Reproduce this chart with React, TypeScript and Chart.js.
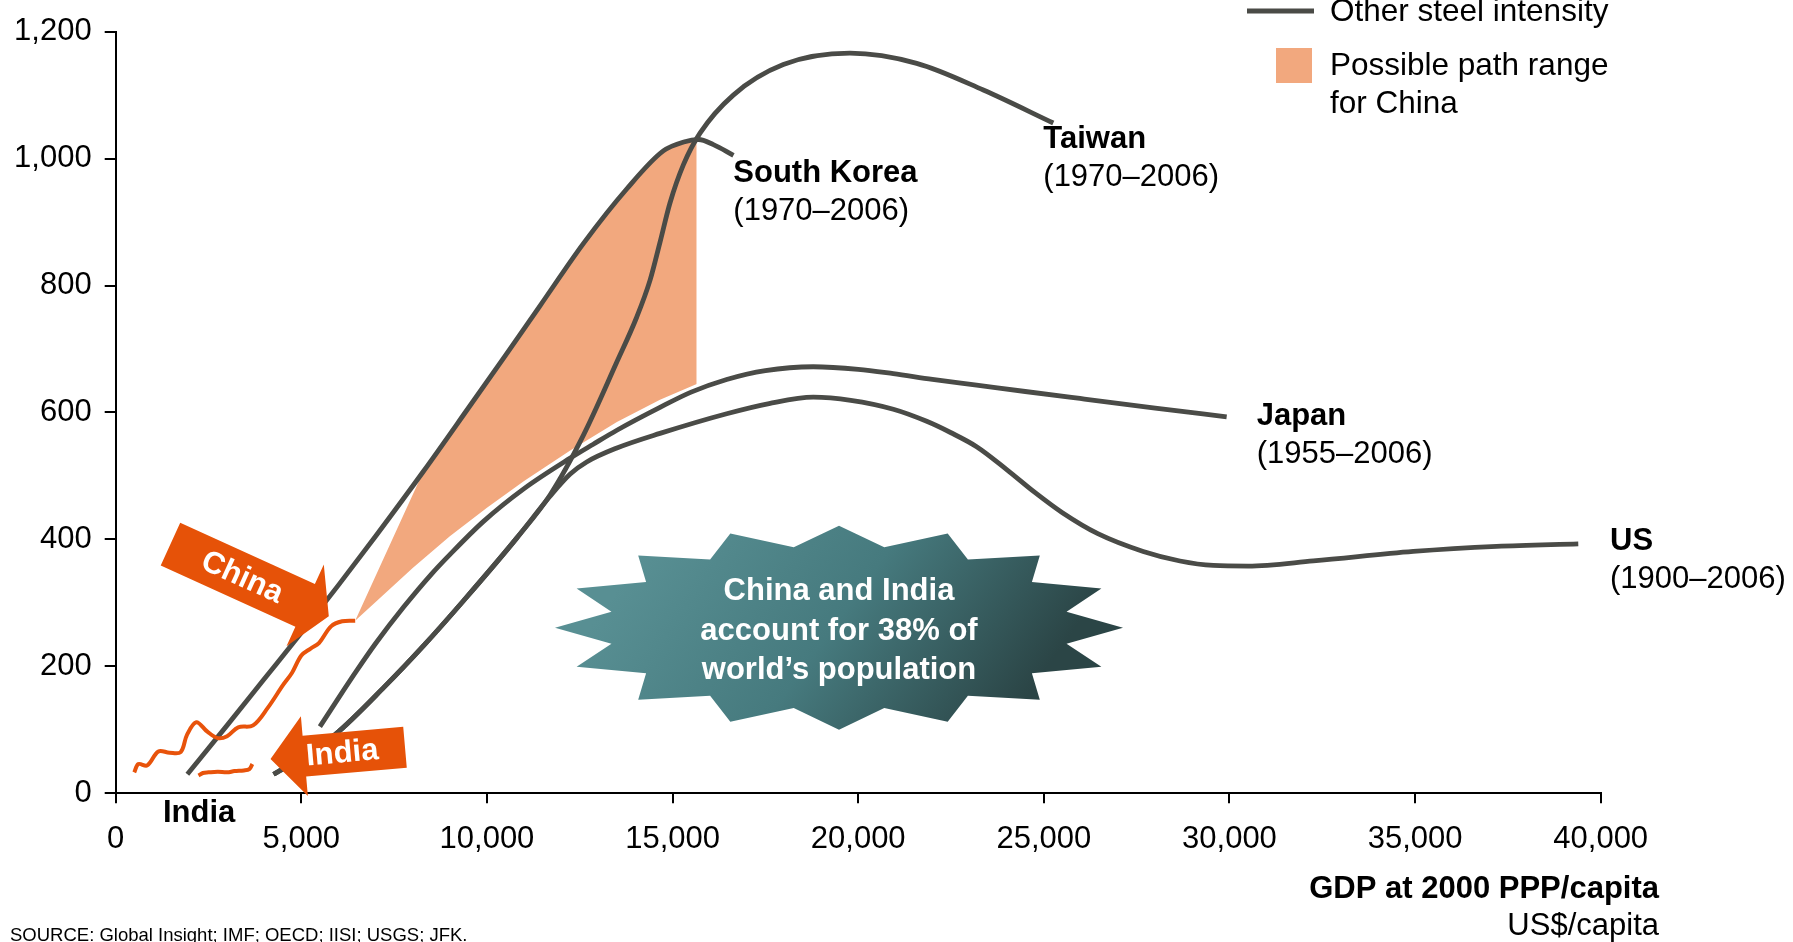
import { useEffect, useRef } from 'react';
import { Chart, registerables } from 'chart.js';

Chart.register(...registerables);

const FONT = '"Liberation Sans", Arial, Helvetica, sans-serif';
const GRAY = '#4a4b47';
const ORANGE = '#e8530b';
const RANGE_FILL = '#f2a87e';

// Axis ticks
const xTickValues = [0, 5000, 10000, 15000, 20000, 25000, 30000, 35000, 40000];
const yTickValues = [0, 200, 400, 600, 800, 1000, 1200];

// Steel intensity against GDP per capita (2000 PPP US$)
const southKoreaGdp = [1930, 3000, 4000, 5000, 6000, 7000, 8286, 9500, 10500, 11429, 12596, 13764, 14750, 15300, 15700, 16100, 16640];
const southKoreaSteel = [30, 107, 180, 253, 328, 405, 507, 607, 690, 768, 866, 952, 1012, 1026, 1030, 1022, 1005];

const taiwanGdp = [4250, 5000, 5900, 7243, 8300, 9363, 10801, 11699, 12596, 13495, 14033, 14392, 14661, 14930, 15290, 15739, 16636, 17983, 19779, 21576, 23370, 25255];
const taiwanSteel = [30, 55, 92, 168, 233, 303, 402, 470, 564, 679, 750, 808, 868, 930, 990, 1040, 1100, 1148, 1166, 1150, 1108, 1056];

const japanGdp = [5500, 6000, 6500, 7000, 7750, 8500, 9000, 9900, 11000, 12243, 12865, 13500, 14661, 15500, 16457, 17500, 18790, 20000, 20946, 22000, 23190, 24500, 25974, 28000, 29925];
const japanSteel = [105, 150, 194, 236, 293, 345, 376, 428, 480, 528, 550, 572, 608, 632, 652, 666, 672, 668, 661, 652, 643, 633, 622, 607, 593];

const usGdp = [4250, 5000, 5900, 7243, 8300, 9363, 10801, 11699, 12243, 12687, 13500, 14661, 16457, 17600, 18790, 19800, 20946, 21845, 22500, 23190, 24000, 24758, 25500, 26455, 27677, 28667, 29565, 30500, 32259, 34952, 37197, 39396];
const usSteel = [30, 55, 92, 168, 233, 303, 402, 468, 503, 522, 544, 567, 598, 614, 624, 619, 605, 586, 568, 546, 510, 474, 442, 409, 381, 366, 359, 358, 366, 381, 389, 393];

const chinaGdp = [500, 610, 850, 1150, 1450, 1750, 1920, 2170, 2470, 2750, 3000, 3300, 3700, 4100, 4500, 4750, 5000, 5250, 5480, 5800, 6100, 6450];
const chinaSteel = [33, 46, 44, 66, 64, 65, 92, 112, 97, 87, 90, 104, 107, 135, 170, 190, 217, 228, 237, 263, 271, 272];

const indiaGdp = [2230, 2350, 2500, 2750, 3000, 3200, 3450, 3600, 3680];
const indiaSteel = [28, 32, 33, 34, 33, 35, 36, 38, 46];

// Possible path range for China: upper and lower bounds
const rangeUpperGdp = [6450, 8286, 9500, 10500, 11429, 12596, 13764, 14750, 15300, 15650];
const rangeUpperSteel = [272, 507, 607, 690, 768, 866, 952, 1012, 1026, 1030];
const rangeLowerGdp = [6450, 7200, 8000, 9000, 10000, 11000, 12243, 13500, 14661, 15650];
const rangeLowerSteel = [272, 312, 355, 405, 450, 492, 540, 585, 620, 645];

const seriesNotes = [
  { name: 'South Korea', years: '(1970–2006)', gdp: 16636, steel: 977 },
  { name: 'Taiwan', years: '(1970–2006)', gdp: 24986, steel: 1030 },
  { name: 'Japan', years: '(1955–2006)', gdp: 30734, steel: 593 },
  { name: 'US', years: '(1900–2006)', gdp: 40251, steel: 397 },
  { name: 'India', years: '', gdp: 1274, steel: -31 },
];

const callouts = [
  { text: 'China', tipGdp: 5740, tipSteel: 279, angle: 24.5, length: 174, bodyHalf: 23.5, headHalf: 45, headLen: 26, textBack: 95 },
  { text: 'India', tipGdp: 4170, tipSteel: 54, angle: 175, length: 135, bodyHalf: 20.5, headHalf: 40, headLen: 34, textBack: 72 },
];

const burst = {
  gdp: 19483,
  steel: 261,
  lines: ['China and India', 'account for 38% of', 'world’s population'],
};

const zip = (xs: number[], ys: number[]) => xs.map((x, i) => ({ x, y: ys[i] }));

const annotationsPlugin = {
  id: 'steelAnnotations',
  afterDatasetsDraw(chart: any) {
    const { ctx } = chart;
    const xs = chart.scales.x;
    const ys = chart.scales.y;

    // starburst callout
    const cx = xs.getPixelForValue(burst.gdp);
    const cy = ys.getPixelForValue(burst.steel);
    const points = 16;
    ctx.save();
    ctx.beginPath();
    for (let i = 0; i < points * 2; i++) {
      const outer = i % 2 === 0;
      const t = -Math.PI / 2 + (i * Math.PI) / points;
      const rx = outer ? 284 : 232;
      const ry = outer ? 102 : 82;
      const px = cx + rx * Math.cos(t);
      const py = cy + ry * Math.sin(t);
      if (i === 0) ctx.moveTo(px, py);
      else ctx.lineTo(px, py);
    }
    ctx.closePath();
    const grad = ctx.createLinearGradient(cx - 170, cy - 110, cx + 150, cy + 120);
    grad.addColorStop(0, '#588f93');
    grad.addColorStop(0.5, '#467a7e');
    grad.addColorStop(1, '#2b4546');
    ctx.fillStyle = grad;
    ctx.fill();
    ctx.fillStyle = '#ffffff';
    ctx.font = `bold 31px ${FONT}`;
    ctx.textAlign = 'center';
    ctx.textBaseline = 'middle';
    burst.lines.forEach((line, i) => {
      ctx.fillText(line, cx, cy - 36 + i * 39.5);
    });
    ctx.restore();

    // block arrows
    callouts.forEach((c) => {
      const tx = xs.getPixelForValue(c.tipGdp);
      const ty = ys.getPixelForValue(c.tipSteel);
      ctx.save();
      ctx.translate(tx, ty);
      ctx.rotate((c.angle * Math.PI) / 180);
      ctx.beginPath();
      ctx.moveTo(0, 0);
      ctx.lineTo(-c.headLen, -c.headHalf);
      ctx.lineTo(-c.headLen, -c.bodyHalf);
      ctx.lineTo(-c.length, -c.bodyHalf);
      ctx.lineTo(-c.length, c.bodyHalf);
      ctx.lineTo(-c.headLen, c.bodyHalf);
      ctx.lineTo(-c.headLen, c.headHalf);
      ctx.closePath();
      ctx.fillStyle = '#e65208';
      ctx.fill();
      ctx.translate(-c.textBack, 0);
      if (Math.abs(c.angle) > 90) ctx.rotate(Math.PI);
      ctx.fillStyle = '#ffffff';
      ctx.font = `bold 31px ${FONT}`;
      ctx.textAlign = 'center';
      ctx.textBaseline = 'middle';
      ctx.fillText(c.text, 0, 1);
      ctx.restore();
    });

    // series labels
    ctx.save();
    ctx.fillStyle = '#000000';
    ctx.textAlign = 'left';
    ctx.textBaseline = 'middle';
    seriesNotes.forEach((n) => {
      const px = xs.getPixelForValue(n.gdp);
      const py = ys.getPixelForValue(n.steel);
      ctx.font = `bold 31px ${FONT}`;
      ctx.fillText(n.name, px, py);
      if (n.years) {
        ctx.font = `31px ${FONT}`;
        ctx.fillText(n.years, px, py + 38);
      }
    });
    ctx.restore();
  },
  afterDraw(chart: any) {
    const { ctx } = chart;
    ctx.save();
    // legend
    ctx.strokeStyle = GRAY;
    ctx.lineWidth = 5;
    ctx.beginPath();
    ctx.moveTo(1247, 11);
    ctx.lineTo(1314, 11);
    ctx.stroke();
    ctx.fillStyle = RANGE_FILL;
    ctx.fillRect(1276, 48, 36, 35);
    ctx.fillStyle = '#000000';
    ctx.font = `31.5px ${FONT}`;
    ctx.textAlign = 'left';
    ctx.textBaseline = 'middle';
    ctx.fillText('Other steel intensity', 1330, 12);
    ctx.fillText('Possible path range', 1330, 66);
    ctx.fillText('for China', 1330, 104);

    // axis title
    ctx.textAlign = 'right';
    ctx.font = `bold 31px ${FONT}`;
    ctx.fillText('GDP at 2000 PPP/capita', 1659, 889);
    ctx.font = `31px ${FONT}`;
    ctx.fillText('US$/capita', 1659, 926);

    // source
    ctx.textAlign = 'left';
    ctx.textBaseline = 'alphabetic';
    ctx.font = `18.5px ${FONT}`;
    ctx.fillText('SOURCE: Global Insight; IMF; OECD; IISI; USGS; JFK.', 10, 941);
    ctx.restore();
  },
};

export default function App() {
  const canvasRef = useRef<HTMLCanvasElement | null>(null);

  useEffect(() => {
    document.body.style.margin = '0';
    document.body.style.overflow = 'hidden';
    const canvas = canvasRef.current;
    if (!canvas) return;

    const grayLine = (label: string, gdp: number[], steel: number[]) => ({
      label,
      data: zip(gdp, steel),
      borderColor: GRAY,
      borderWidth: 4.8,
      cubicInterpolationMode: 'monotone' as const,
      fill: false,
    });

    const chart = new Chart(canvas, {
      type: 'line',
      data: {
        datasets: [
          {
            label: 'China',
            data: zip(chinaGdp, chinaSteel),
            borderColor: ORANGE,
            borderWidth: 4,
            tension: 0.35,
            fill: false,
          },
          {
            label: 'India',
            data: zip(indiaGdp, indiaSteel),
            borderColor: ORANGE,
            borderWidth: 4,
            tension: 0.35,
            fill: false,
          },
          grayLine('South Korea', southKoreaGdp, southKoreaSteel),
          grayLine('Taiwan', taiwanGdp, taiwanSteel),
          grayLine('Japan', japanGdp, japanSteel),
          grayLine('US', usGdp, usSteel),
          {
            label: 'Possible path range for China',
            data: zip(rangeUpperGdp, rangeUpperSteel),
            borderColor: 'rgba(0,0,0,0)',
            borderWidth: 0,
            backgroundColor: RANGE_FILL,
            tension: 0,
            fill: '+1',
          },
          {
            label: 'Possible path range lower bound',
            data: zip(rangeLowerGdp, rangeLowerSteel),
            borderColor: 'rgba(0,0,0,0)',
            borderWidth: 0,
            tension: 0,
            fill: false,
          },
        ],
      },
      options: {
        responsive: false,
        animation: false,
        devicePixelRatio: 1,
        layout: { padding: { left: 0, top: 28, right: 192.3, bottom: 0 } },
        elements: {
          point: { radius: 0, hoverRadius: 0 },
          line: { borderCapStyle: 'butt', borderJoinStyle: 'round' },
        },
        plugins: {
          legend: { display: false },
          tooltip: { enabled: false },
        },
        events: [],
        scales: {
          x: {
            type: 'linear',
            min: 0,
            max: 40000,
            afterBuildTicks: (s: any) => {
              s.ticks = xTickValues.map((value) => ({ value }));
            },
            afterFit: (s: any) => {
              s.height = 148.7;
            },
            ticks: {
              autoSkip: false,
              maxRotation: 0,
              minRotation: 0,
              padding: 18,
              color: '#000000',
              font: { family: FONT, size: 31 },
              callback: (v: any) => Number(v).toLocaleString('en-US'),
            },
            grid: {
              drawOnChartArea: false,
              drawTicks: true,
              tickLength: 10,
              color: '#000000',
              lineWidth: 2,
            },
            border: { display: true, color: '#000000', width: 2 },
          },
          y: {
            type: 'linear',
            min: 0,
            max: 1200,
            afterBuildTicks: (s: any) => {
              s.ticks = yTickValues.map((value) => ({ value }));
            },
            afterFit: (s: any) => {
              s.width = 115.7;
            },
            ticks: {
              padding: 13,
              color: '#000000',
              font: { family: FONT, size: 31 },
              callback: (v: any) => Number(v).toLocaleString('en-US'),
            },
            grid: {
              drawOnChartArea: false,
              drawTicks: true,
              tickLength: 11,
              color: '#000000',
              lineWidth: 2,
            },
            border: { display: true, color: '#000000', width: 2 },
          },
        },
      },
      plugins: [annotationsPlugin],
    } as any);

    return () => chart.destroy();
  }, []);

  return <canvas ref={canvasRef} width={1793} height={942} style={{ display: 'block' }} />;
}
